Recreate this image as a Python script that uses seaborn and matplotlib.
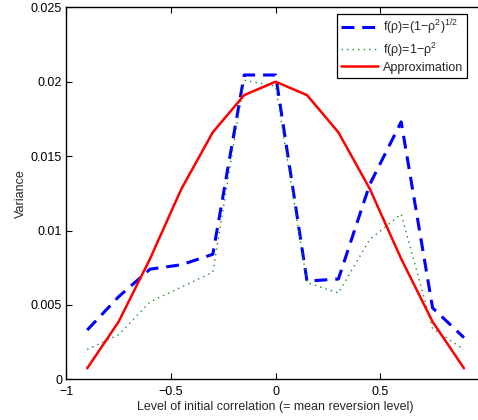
import numpy as np
import pandas as pd
import matplotlib
matplotlib.use("Agg")
import matplotlib.pyplot as plt
import seaborn as sns

# Initial correlation levels (= mean reversion levels)
rho = [-0.9, -0.75, -0.6, -0.45, -0.3, -0.15, 0.0, 0.15, 0.3, 0.45, 0.6, 0.75, 0.9]

# Variance estimates for each volatility function
var_sqrt = [0.00331, 0.00555, 0.0074, 0.0077, 0.0084, 0.02045, 0.02045,
            0.0066, 0.00674, 0.0131, 0.0173, 0.0048, 0.0028]
var_lin = [0.0020, 0.0030, 0.0052, 0.0062, 0.0072, 0.0201, 0.0197,
           0.0065, 0.0058, 0.0094, 0.0111, 0.0034, 0.0020]
var_approx = [0.00074, 0.00387, 0.0081, 0.0128, 0.0166, 0.0191, 0.0200,
              0.0191, 0.0166, 0.0128, 0.0081, 0.00387, 0.00074]

labels = [r"f(ρ)=(1−ρ$^2$)$^{1/2}$", r"f(ρ)=1−ρ$^2$", "Approximation"]
xticks = [-1, -0.5, 0, 0.5]
xticklabels = ["−1", "−0.5", "0", "0.5"]
yticks = [0, 0.005, 0.01, 0.015, 0.02, 0.025]
yticklabels = ["0", "0.005", "0.01", "0.015", "0.02", "0.025"]

sns.set_style("ticks")
plt.rcParams["font.family"] = ["Liberation Sans", "DejaVu Sans"]
plt.rcParams["mathtext.fontset"] = "custom"
plt.rcParams["mathtext.rm"] = "Liberation Sans"
plt.rcParams["mathtext.it"] = "Liberation Sans:italic"
plt.rcParams["mathtext.default"] = "regular"

fig = plt.figure(figsize=(4.78, 4.20), dpi=100)
W, H = 478, 420
left, top, bottom = 66.3, 7.3, 379.3
width = 418.6
ax = fig.add_axes([left / W, (H - bottom) / H, width / W, (bottom - top) / H])

df = pd.DataFrame({"rho": rho, "sqrt": var_sqrt, "lin": var_lin, "approx": var_approx})

sns.lineplot(data=df, x="rho", y="sqrt", ax=ax, color="#0000ff", lw=2.2,
             label=labels[0])
ax.lines[-1].set_dashes([4.2, 2.6])
sns.lineplot(data=df, x="rho", y="lin", ax=ax, color="#1a8c1a", lw=1.0,
             label=labels[1])
ax.lines[-1].set_dashes([1, 3])
sns.lineplot(data=df, x="rho", y="approx", ax=ax, color="#ff0000", lw=1.8,
             label=labels[2])

ax.set_xlim(-1, 1)
ax.set_ylim(0, 0.025)
ax.set_xticks(xticks)
ax.set_xticklabels(xticklabels)
ax.set_yticks(yticks)
ax.set_yticklabels(yticklabels)
ax.tick_params(direction="in", length=4, width=0.8, labelsize=9,
               top=True, right=True, colors="black")
ax.tick_params(axis="x", pad=5)
ax.tick_params(axis="y", pad=3)
for s in ax.spines.values():
    s.set_linewidth(1.0)
    s.set_color("black")

ax.set_xlabel("Level of initial correlation (= mean reversion level)", fontsize=9, labelpad=2)
ax.set_ylabel("Variance", fontsize=9, labelpad=3)

leg = ax.legend(loc="upper left", bbox_to_anchor=((337 - left) / width, 1 - (14 - top) / (bottom - top)),
                fontsize=9, frameon=True, fancybox=False, framealpha=1,
                handlelength=3.0, handletextpad=0.35, borderpad=0.3,
                labelspacing=0.25, borderaxespad=0)
leg.get_frame().set_edgecolor("black")
leg.get_frame().set_linewidth(0.9)

fig.savefig("out.png", dpi=100)
